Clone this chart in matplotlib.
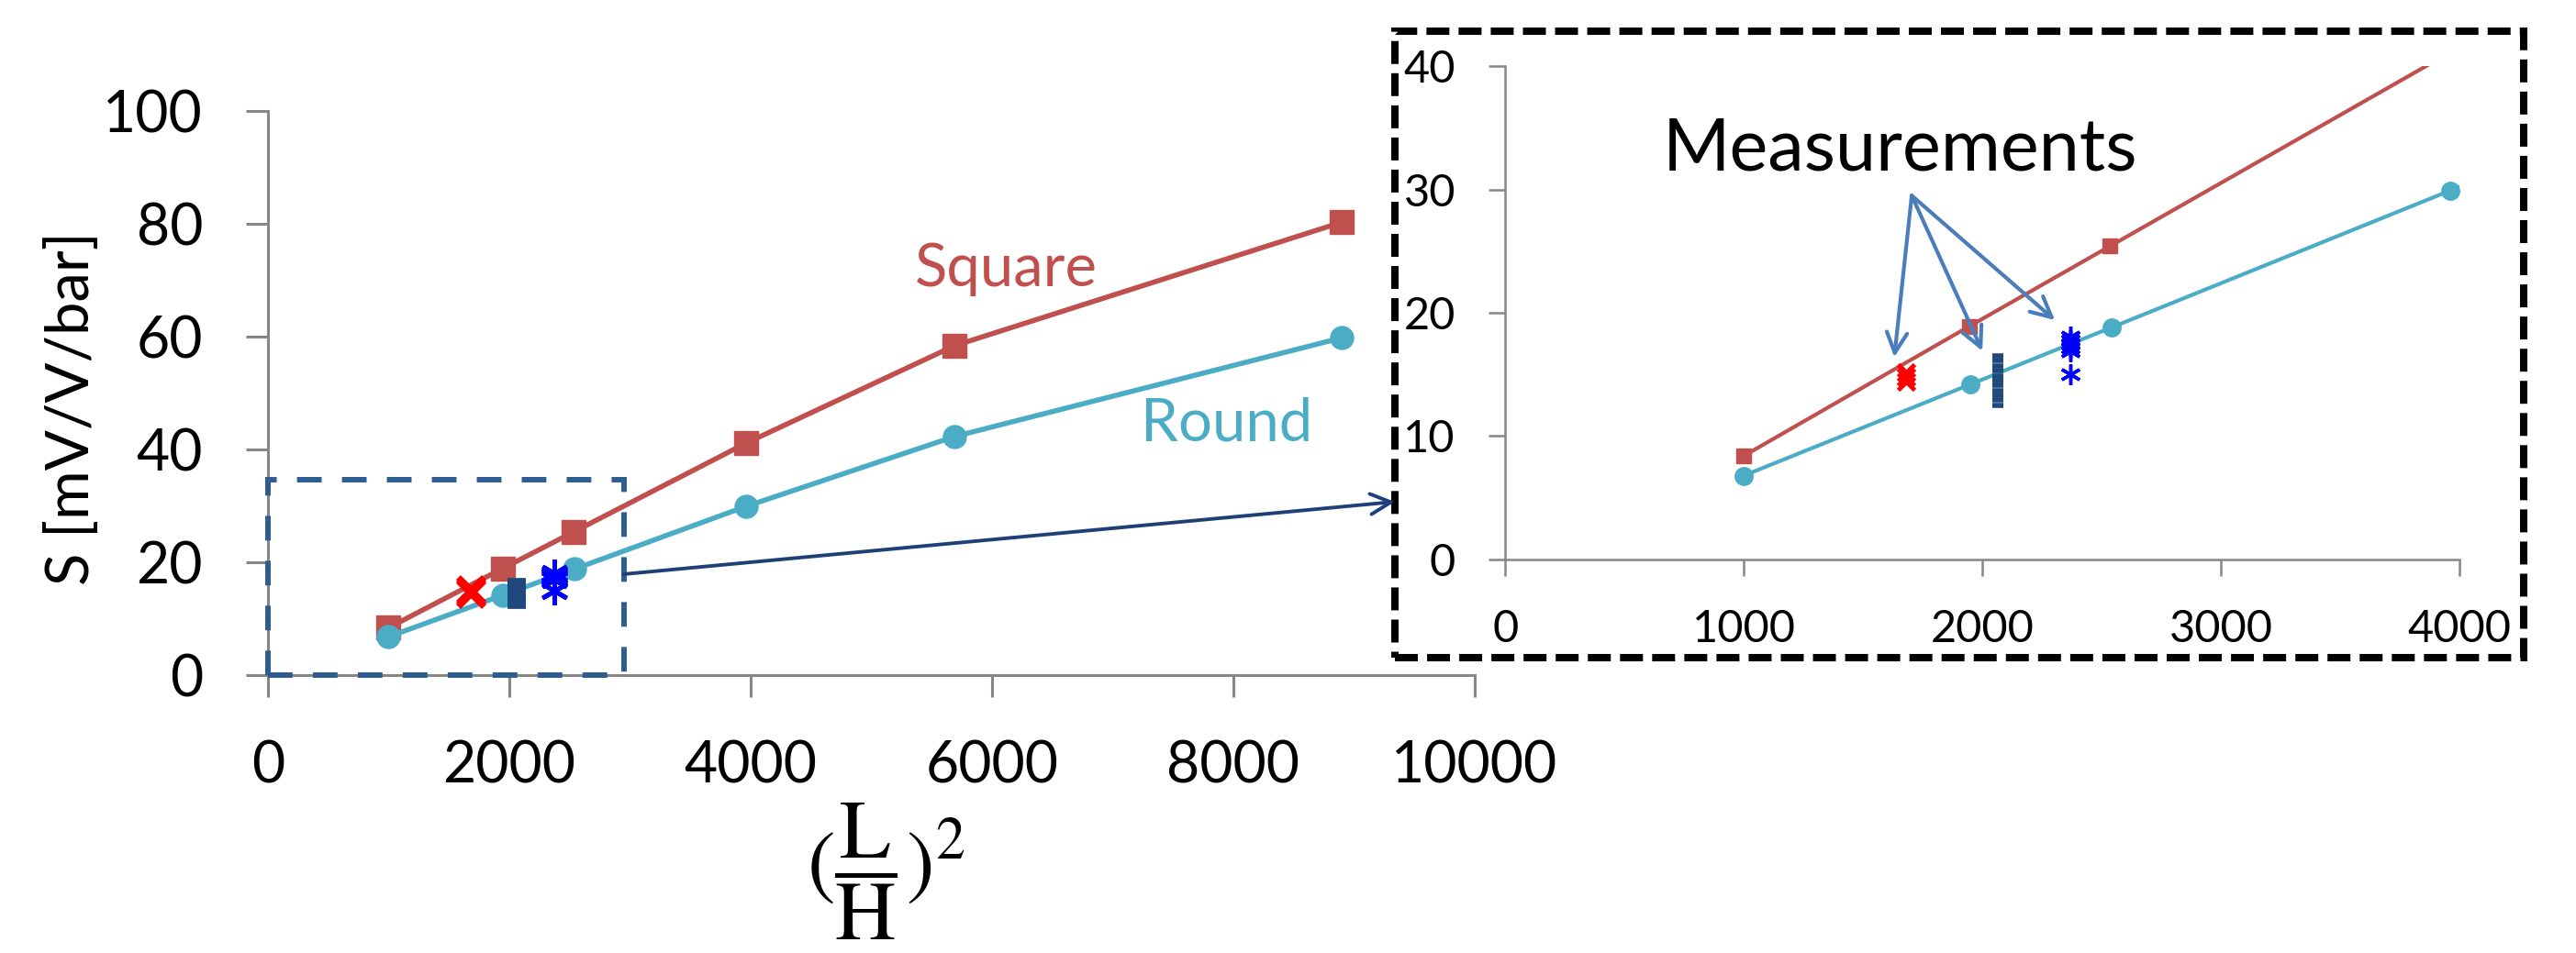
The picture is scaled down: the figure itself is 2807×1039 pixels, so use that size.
import matplotlib
matplotlib.use("Agg")
import matplotlib.pyplot as plt
from matplotlib.patches import Rectangle, ConnectionPatch

plt.rcParams['font.family'] = ['Lato', 'DejaVu Sans']
plt.rcParams['mathtext.fontset'] = 'stix'

# simulated sensitivity vs (L/H)^2
square_x = [1000, 1945, 2535, 3960, 5690, 8900]
square_s = [8.4, 18.9, 25.4, 41.1, 58.4, 80.3]
round_x = [1000, 1950, 2540, 3960, 5690, 8900]
round_s = [6.8, 14.2, 18.8, 29.9, 42.3, 59.8]

# measured devices
red_x = [1680, 1680, 1680]
red_s = [14.4, 14.8, 15.2]
dark_x = [2065, 2065, 2065, 2065, 2065, 2065, 2065, 2065, 2065, 2065, 2065]
dark_s = [12.5, 12.9, 13.3, 13.7, 14.1, 14.5, 14.9, 15.3, 15.7, 16.1, 16.5]
blue_x = [2370, 2370, 2370, 2370, 2370, 2370]
blue_s = [15.0, 16.9, 17.2, 17.5, 17.8, 18.1]

# measurement arrows in the zoom (start, tips)
arrow_from = (1704, 29.5)
arrow_tips = [(1631, 16.4), (2000, 16.9), (2304, 19.4)]

RED = '#C0504D'
CYAN = '#4BACC6'
GREY = '#868686'

fig = plt.figure(figsize=(28.07, 10.39), dpi=100)

# main plot
ax = fig.add_axes([0.1040, 0.2916, 0.4685, 0.5919])
ax.plot(square_x, square_s, color=RED, lw=4, marker='s', ms=19, zorder=3)
ax.plot(round_x, round_s, color=CYAN, lw=4, marker='o', ms=18, zorder=3)
ax.plot(red_x, red_s, ls='none', marker='x', ms=20, mew=5, color='#FF0000', zorder=4)
ax.plot(dark_x, dark_s, ls='none', marker='_', ms=14, mew=7, color='#1F497D', zorder=4)
ax.plot(blue_x, blue_s, ls='none', marker=(6, 2, 0), ms=22, mew=3.5, color='#0000FF', zorder=4)

ax.set_xlim(0, 10000)
ax.set_ylim(0, 100)
ax.set_xticks(range(0, 10001, 2000))
ax.set_yticks(range(0, 101, 20))
for s in ['top', 'right']:
    ax.spines[s].set_visible(False)
for s in ['left', 'bottom']:
    ax.spines[s].set_color(GREY)
    ax.spines[s].set_linewidth(2.2)
ax.tick_params(direction='out', length=17, width=2.2, color=GREY,
               labelsize=45, pad=34)
ax.patch.set_alpha(0)

# zoom region box
ax.add_patch(Rectangle((0, 0), 2950, 34.6, fill=False, ec='#2F5D91', lw=4.3,
                       linestyle=(0, (4.5, 3.7)), zorder=5, clip_on=False))

fig.text(0.3552, 0.6997, 'Square', color=RED, fontsize=47, ha='left', va='baseline')
fig.text(0.4428, 0.538, 'Round', color=CYAN, fontsize=47, ha='left', va='baseline')
fig.text(0.0278, 0.572, 'S [mV/V/bar]', fontsize=47, rotation=90, ha='center', va='center')
fig.text(0.344, 0.0857, r'$(\dfrac{\mathrm{L}}{\mathrm{H}})^{2}$', fontsize=66,
         ha='center', va='center')

# zoomed inset
ax2 = fig.add_axes([0.5843, 0.4129, 0.3705, 0.5178])
ax2.patch.set_alpha(0)
ax2.plot(square_x, square_s, color=RED, lw=3, marker='s', ms=12)
ax2.plot(round_x, round_s, color=CYAN, lw=3, marker='o', ms=14)
ax2.plot(red_x, red_s, ls='none', marker='x', ms=13, mew=3.5, color='#FF0000', zorder=4)
ax2.plot(dark_x, dark_s, ls='none', marker='_', ms=9, mew=4, color='#1F497D', zorder=4)
ax2.plot(blue_x, blue_s, ls='none', marker=(6, 2, 0), ms=16, mew=2.5, color='#0000FF', zorder=4)
ax2.set_xlim(0, 4000)
ax2.set_ylim(0, 40)
ax2.set_xticks(range(0, 4001, 1000))
ax2.set_yticks(range(0, 41, 10))
for s in ['top', 'right']:
    ax2.spines[s].set_visible(False)
for s in ['left', 'bottom']:
    ax2.spines[s].set_color(GREY)
    ax2.spines[s].set_linewidth(1.8)
ax2.tick_params(direction='out', length=13, width=1.8, color=GREY,
                labelsize=35, pad=26)

fig.text(0.6455, 0.8219, 'Measurements', fontsize=57, ha='left', va='baseline')
for tip in arrow_tips:
    ax2.annotate('', xy=tip, xytext=arrow_from,
                 arrowprops=dict(arrowstyle='->', color='#4A7EBB', lw=3,
                                 mutation_scale=40, shrinkA=0, shrinkB=0))

# dashed frame round the inset
fig.add_artist(Rectangle((0.5415, 0.3099), 0.4382, 0.6574, transform=fig.transFigure,
                         fill=False, ec='black', lw=5.8, linestyle=(0, (3.1, 1.25))))

# arrow from zoom box to inset
con = ConnectionPatch(xyA=(2950, 17.9), coordsA=ax.transData,
                      xyB=(0.5415, 0.4735), coordsB=fig.transFigure,
                      arrowstyle='->', color='#1F3F77', lw=2.8,
                      mutation_scale=40, shrinkA=0, shrinkB=0)
fig.add_artist(con)

fig.savefig('out.png', dpi=100)
